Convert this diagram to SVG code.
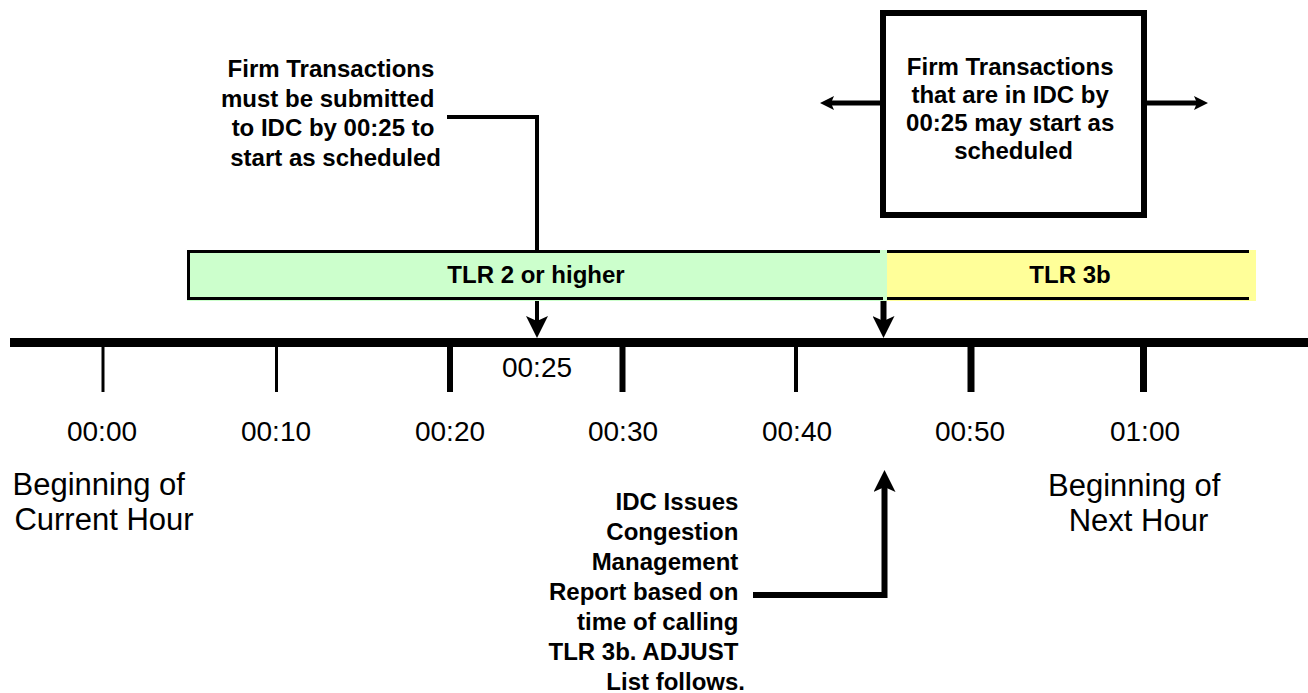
<svg xmlns="http://www.w3.org/2000/svg" width="1308" height="693" viewBox="0 0 1308 693">
  <style>
    .t { font-family: "Liberation Sans", Arial, sans-serif; fill: #000; }
    .b24 { font-size: 24px; font-weight: bold; }
    .lbl { font-size: 28px; }
    .big { font-size: 31px; }
    .conn { fill: none; stroke: #000; stroke-linejoin: miter; }
    .tick { stroke: #000; }
  </style>
  <defs>
    <marker id="head" markerUnits="userSpaceOnUse" viewBox="0 0 22 22" markerWidth="22" markerHeight="22" refX="6" refY="11" orient="auto">
      <path d="M0,0 L22,11 L0,22 L5,11 Z" fill="#000"/>
    </marker>
    <marker id="headSm" markerUnits="userSpaceOnUse" viewBox="0 0 14 14" markerWidth="14" markerHeight="14" refX="3" refY="7" orient="auto">
      <path d="M0,0 L14,7 L0,14 L3,7 Z" fill="#000"/>
    </marker>
  </defs>

  <rect width="1308" height="693" fill="#fff"/>

  <!-- connectors -->
  <g id="connectors">
    <path class="conn" d="M447,117 H537 V322" stroke-width="4" marker-end="url(#head)"/>
    <path class="conn" d="M883.5,297 V322" stroke-width="6" marker-end="url(#head)"/>
    <path class="conn" d="M753,595 H884.5 V486" stroke-width="6" marker-end="url(#head)"/>
    <path class="conn" d="M880,103 H831" stroke-width="5" marker-end="url(#headSm)"/>
    <path class="conn" d="M1147,103 H1197" stroke-width="5" marker-end="url(#headSm)"/>
  </g>

  <!-- time axis -->
  <g id="axis">
    <rect x="10" y="338" width="1298" height="9" fill="#000"/>
    <line class="tick" x1="103" y1="347" x2="103" y2="392" stroke-width="3"/>
    <line class="tick" x1="276.5" y1="347" x2="276.5" y2="392" stroke-width="3"/>
    <line class="tick" x1="450" y1="347" x2="450" y2="392" stroke-width="6"/>
    <line class="tick" x1="622.5" y1="347" x2="622.5" y2="392" stroke-width="6"/>
    <line class="tick" x1="796" y1="347" x2="796" y2="392" stroke-width="4"/>
    <line class="tick" x1="971" y1="347" x2="971" y2="392" stroke-width="7"/>
    <line class="tick" x1="1143.5" y1="347" x2="1143.5" y2="392" stroke-width="7"/>
  </g>

  <g id="axis-labels" class="t lbl" text-anchor="middle">
    <text x="102" y="441">00:00</text>
    <text x="276" y="441">00:10</text>
    <text x="450" y="441">00:20</text>
    <text x="623" y="441">00:30</text>
    <text x="797" y="441">00:40</text>
    <text x="970" y="441">00:50</text>
    <text x="1145" y="441">01:00</text>
    <text x="537" y="377">00:25</text>
  </g>

  <!-- TLR 2 or higher band -->
  <g id="tlr2">
    <rect x="187" y="250" width="700" height="51" fill="#ccffcc"/>
    <path d="M880,251.5 H188.5 V298.5 H883" fill="none" stroke="#000" stroke-width="3"/>
    <text class="t b24" x="536" y="283" text-anchor="middle">TLR 2 or higher</text>
  </g>

  <!-- TLR 3b band -->
  <g id="tlr3b">
    <rect x="887" y="250" width="369" height="51" fill="#ffff99"/>
    <line x1="887" y1="251.5" x2="1249" y2="251.5" stroke="#000" stroke-width="3"/>
    <line x1="887" y1="298.5" x2="1249" y2="298.5" stroke="#000" stroke-width="3"/>
    <text class="t b24" x="1070" y="283" text-anchor="middle">TLR 3b</text>
  </g>

  <!-- boxed note -->
  <g id="firm-in-idc">
    <rect x="883" y="13" width="261" height="202" fill="#fff" stroke="#000" stroke-width="6"/>
    <text class="t b24" text-anchor="middle">
      <tspan x="1013.5" y="75">Firm Transactions</tspan>
      <tspan x="1013.5" y="103">that are in IDC by</tspan>
      <tspan x="1013.5" y="131">00:25 may start as</tspan>
      <tspan x="1013.5" y="159">scheduled</tspan>
    </text>
  </g>

  <!-- submission deadline note -->
  <g id="firm-submit">
    <text class="t b24" text-anchor="end">
      <tspan x="441" y="77">Firm Transactions</tspan>
      <tspan x="441" y="106.5">must be submitted</tspan>
      <tspan x="441" y="136">to IDC by 00:25 to</tspan>
      <tspan x="441" y="165.5">start as scheduled</tspan>
    </text>
  </g>

  <!-- congestion report note -->
  <g id="idc-report">
    <text class="t b24" text-anchor="end">
      <tspan x="745" y="510">IDC Issues</tspan>
      <tspan x="745" y="540">Congestion</tspan>
      <tspan x="745" y="570">Management</tspan>
      <tspan x="745" y="600">Report based on</tspan>
      <tspan x="745" y="630">time of calling</tspan>
      <tspan x="745" y="660">TLR 3b. ADJUST</tspan>
      <tspan x="745" y="690">List follows.</tspan>
    </text>
  </g>

  <g id="current-hour">
    <text class="t big" text-anchor="middle">
      <tspan x="103" y="495">Beginning of</tspan>
      <tspan x="104" y="530">Current Hour</tspan>
    </text>
  </g>

  <g id="next-hour">
    <text class="t big" text-anchor="middle">
      <tspan x="1138.5" y="496">Beginning of</tspan>
      <tspan x="1138.5" y="531">Next Hour</tspan>
    </text>
  </g>
</svg>
